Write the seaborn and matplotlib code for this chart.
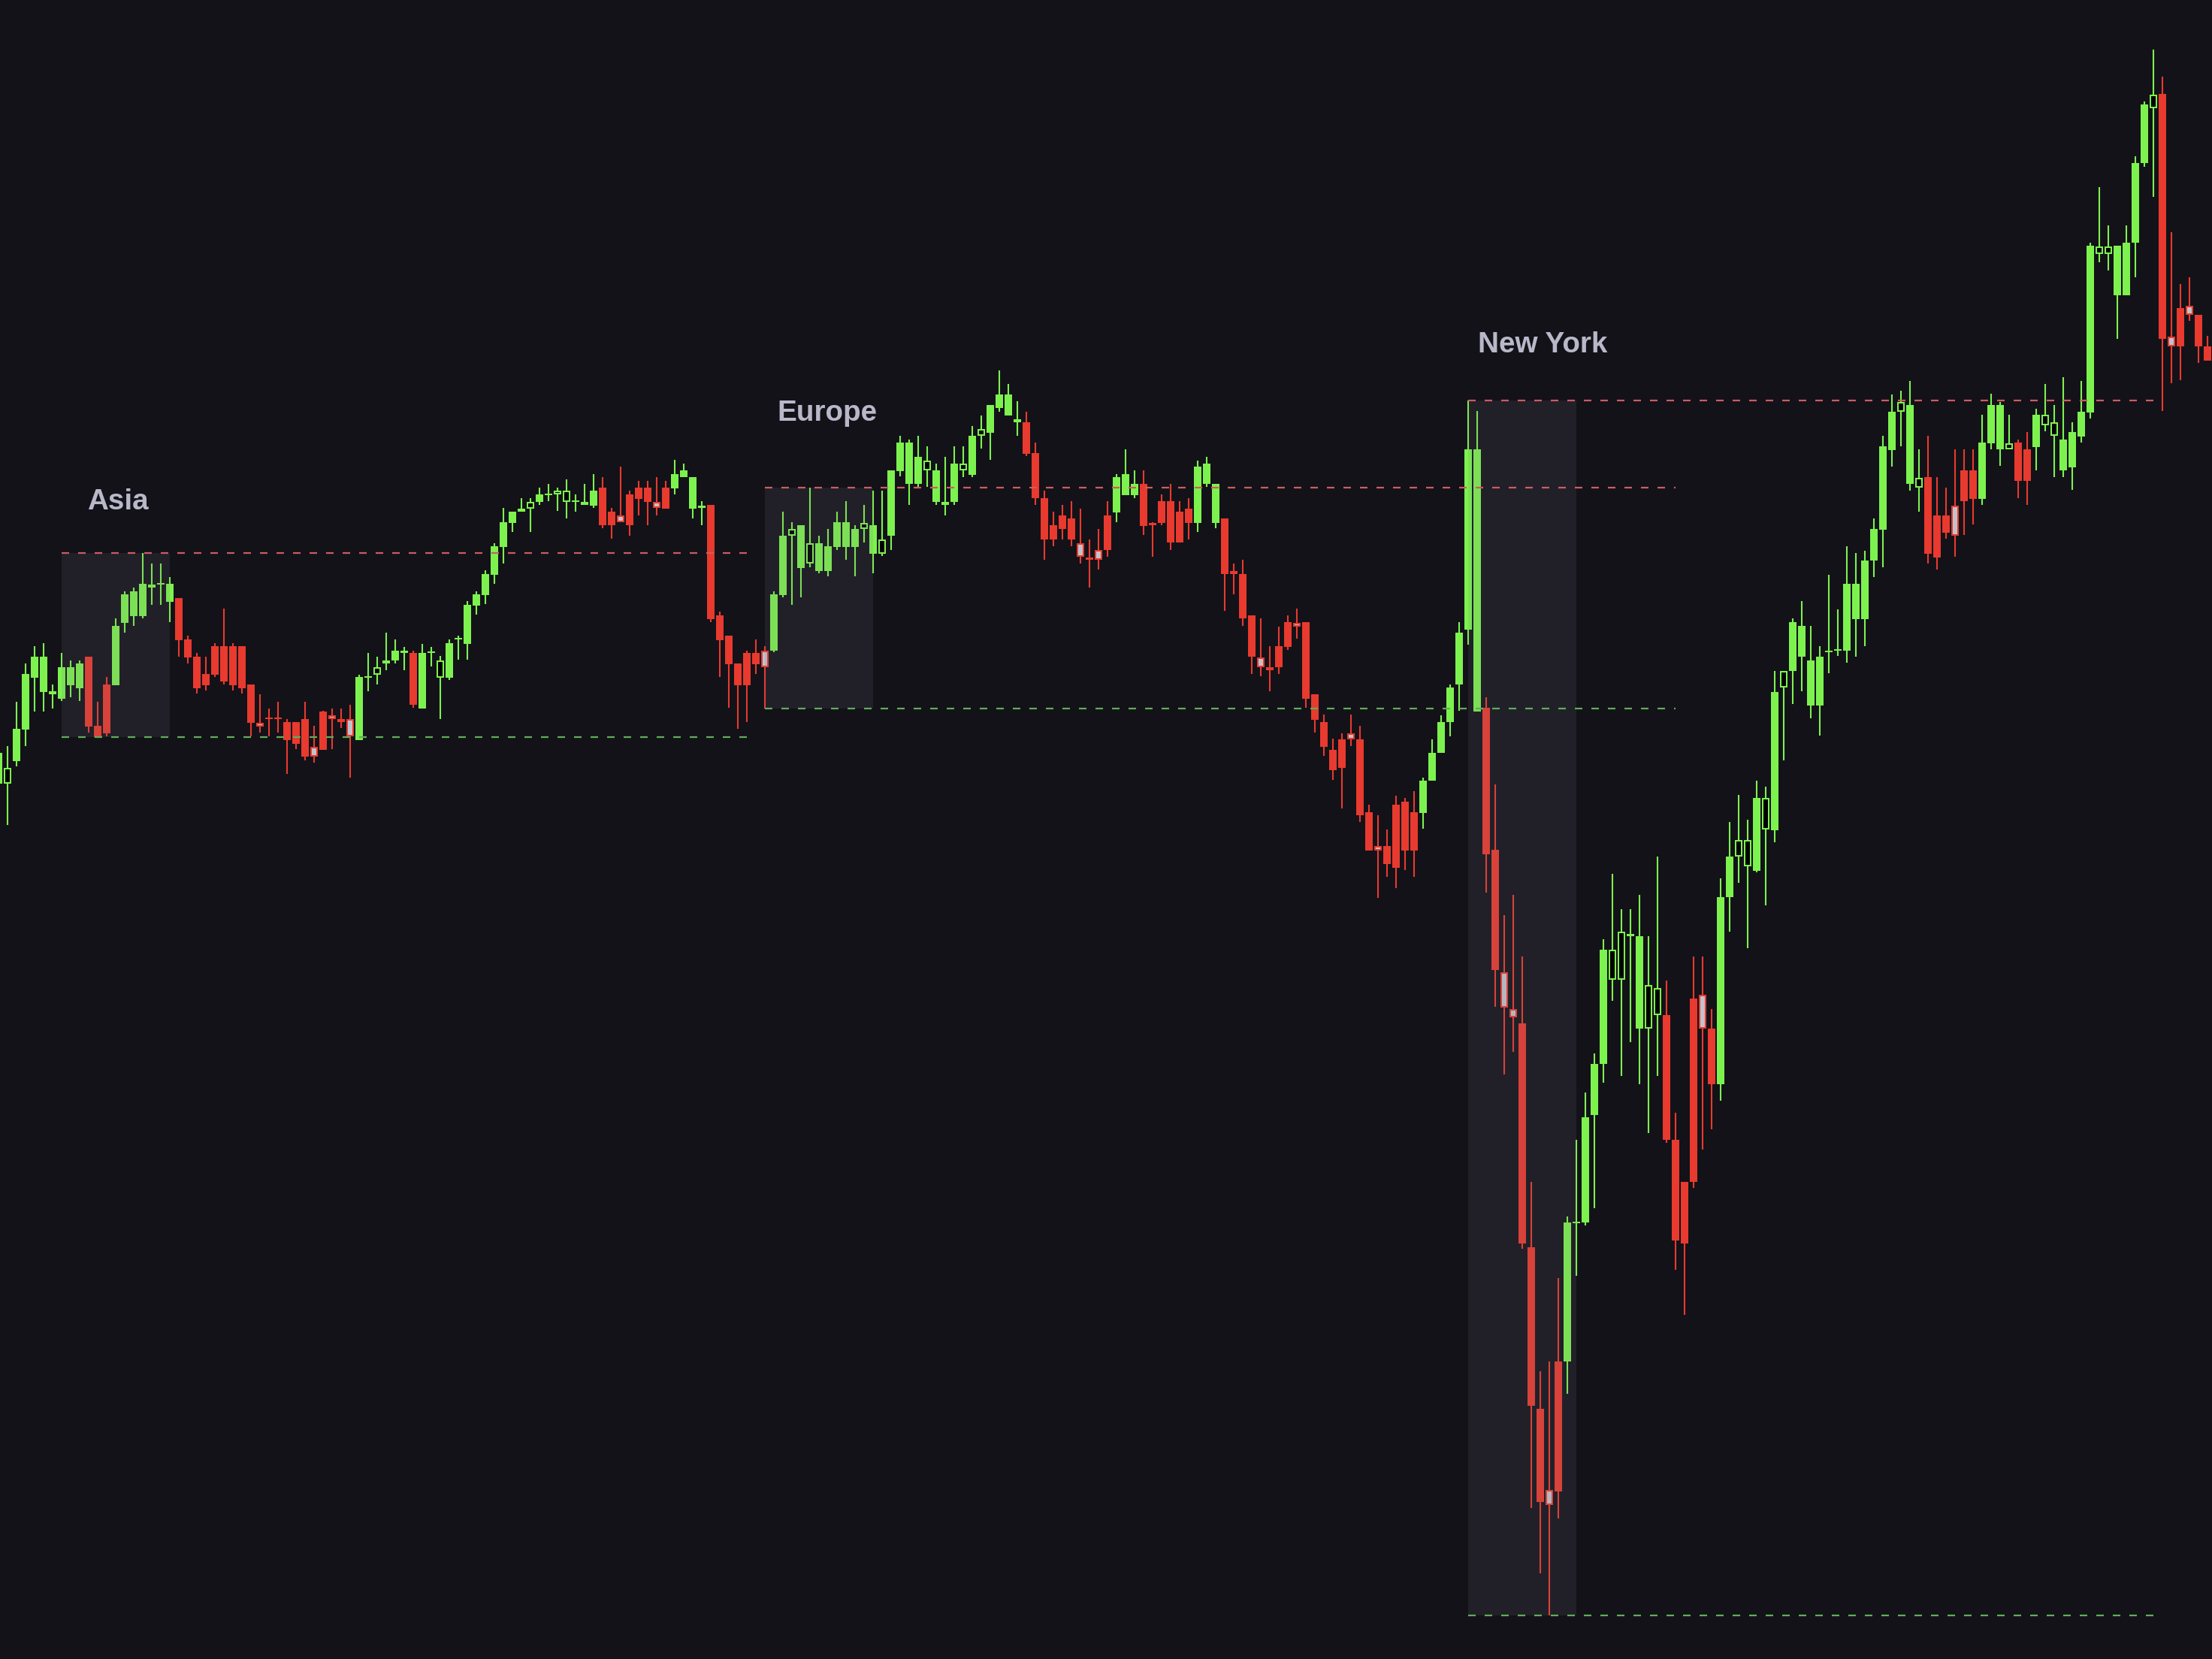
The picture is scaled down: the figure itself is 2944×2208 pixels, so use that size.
import matplotlib
matplotlib.use("Agg")
import matplotlib.pyplot as plt
from matplotlib.patches import Rectangle
import seaborn as sns

# ---------------------------------------------------------------------------
# data: one bar per slot, first bar sits at index -1 (partly off the left edge)
# ---------------------------------------------------------------------------
first_bar = -1

opens = [
    1957, 1957, 1987, 2029, 2098, 2079, 2076, 2070, 2088, 2084, 2126,
    2034, 2089, 2088, 2171, 2180, 2180, 2218, 2222, 2199, 2204,
    2149, 2126, 2103, 2140, 2140, 2140, 2140, 2089, 2038, 2044,
    2044, 2039, 2039, 2043, 2006, 2053, 2048, 2043, 2043, 2015,
    2098, 2102, 2117, 2121, 2131, 2131, 2057, 2131, 2098, 2098,
    2149, 2143, 2194, 2208, 2235, 2272, 2304, 2319, 2323, 2332,
    2341, 2342, 2332, 2332, 2328, 2327, 2351, 2319, 2314, 2342,
    2351, 2351, 2332, 2351, 2350, 2365, 2323, 2324, 2328, 2181,
    2154, 2117, 2131, 2131, 2134, 2134, 2208, 2287, 2244, 2250,
    2240, 2240, 2272, 2272, 2272, 2296, 2263, 2263, 2287, 2373,
    2356, 2356, 2374, 2332, 2328, 2332, 2374, 2368, 2420, 2424,
    2457, 2447, 2438, 2438, 2397, 2337, 2301, 2314, 2310, 2277,
    2258, 2268, 2314, 2318, 2341, 2341, 2356, 2304, 2333, 2333,
    2319, 2323, 2304, 2356, 2304, 2310, 2240, 2236, 2181, 2125,
    2112, 2140, 2172, 2171, 2172, 2076, 2039, 2002, 2016, 2024,
    2016, 1919, 1874, 1874, 1929, 1933, 1919, 1918, 1961, 1998,
    2039, 2089, 2162, 2053, 2058, 1869, 1706, 1657, 1638, 1340,
    1125, 1017, 1188, 1188, 1372, 1373, 1516, 1584, 1696, 1696,
    1754, 1631, 1631, 1649, 1649, 1483, 1427, 1671, 1676, 1631,
    1557, 1806, 1860, 1847, 1841, 1896, 1895, 2085, 2107, 2126,
    2061, 2061, 2132, 2134, 2134, 2176, 2176, 2254, 2295, 2401,
    2452, 2356, 2351, 2365, 2314, 2314, 2327, 2374, 2374, 2336,
    2410, 2402, 2402, 2411, 2402, 2405, 2434, 2420, 2374, 2378,
    2419, 2451, 2662, 2662, 2607, 2607, 2677, 2783, 2856, 2875,
    2552, 2590, 2593, 2581, 2539,
]

highs = [
    2005, 2007, 2066, 2117, 2140, 2144, 2089, 2131, 2121, 2121, 2126,
    2066, 2099, 2177, 2213, 2218, 2264, 2250, 2250, 2232, 2204,
    2154, 2131, 2126, 2144, 2190, 2144, 2140, 2089, 2076, 2057,
    2066, 2043, 2039, 2066, 2034, 2054, 2057, 2057, 2062, 2102,
    2131, 2126, 2158, 2149, 2139, 2134, 2143, 2139, 2127, 2149,
    2154, 2200, 2213, 2241, 2277, 2324, 2319, 2337, 2337, 2351,
    2356, 2351, 2362, 2342, 2356, 2369, 2365, 2324, 2379, 2347,
    2360, 2360, 2365, 2360, 2388, 2383, 2365, 2333, 2328, 2186,
    2154, 2117, 2134, 2149, 2140, 2213, 2319, 2305, 2301, 2351,
    2287, 2296, 2319, 2333, 2301, 2328, 2347, 2347, 2374, 2420,
    2415, 2420, 2406, 2383, 2392, 2406, 2406, 2433, 2447, 2461,
    2507, 2489, 2466, 2452, 2411, 2347, 2319, 2328, 2333, 2323,
    2282, 2296, 2333, 2369, 2402, 2374, 2374, 2305, 2342, 2356,
    2333, 2337, 2387, 2392, 2356, 2310, 2250, 2255, 2181, 2177,
    2140, 2166, 2181, 2190, 2172, 2076, 2049, 2017, 2024, 2049,
    2034, 1929, 1915, 1896, 1941, 1938, 1947, 1965, 2016, 2048,
    2089, 2172, 2467, 2453, 2072, 1956, 1782, 1809, 1727, 1427,
    1175, 1188, 1299, 1381, 1483, 1546, 1598, 1750, 1837, 1790,
    1790, 1809, 1754, 1860, 1695, 1519, 1427, 1727, 1727, 1657,
    1831, 1906, 1942, 1909, 1961, 1953, 2107, 2107, 2177, 2200,
    2167, 2140, 2235, 2189, 2273, 2264, 2267, 2310, 2420, 2475,
    2480, 2493, 2402, 2420, 2365, 2351, 2402, 2402, 2402, 2448,
    2476, 2465, 2448, 2415, 2425, 2456, 2489, 2461, 2498, 2438,
    2493, 2677, 2751, 2700, 2673, 2700, 2792, 2865, 2934, 2898,
    2691, 2622, 2631, 2581, 2553,
]

lows = [
    1940, 1902, 1980, 2007, 2053, 2053, 2057, 2067, 2072, 2067, 2025,
    2019, 2020, 2088, 2158, 2167, 2177, 2195, 2195, 2172, 2126,
    2117, 2077, 2081, 2099, 2089, 2081, 2077, 2020, 2025, 2020,
    2025, 1970, 2003, 1988, 1985, 2002, 2003, 2031, 1965, 2015,
    2080, 2089, 2108, 2117, 2108, 2058, 2057, 2113, 2043, 2095,
    2122, 2122, 2182, 2196, 2223, 2250, 2292, 2319, 2292, 2328,
    2333, 2320, 2310, 2319, 2328, 2324, 2297, 2283, 2305, 2287,
    2314, 2301, 2314, 2323, 2342, 2365, 2310, 2301, 2172, 2099,
    2058, 2030, 2039, 2103, 2057, 2132, 2205, 2195, 2205, 2245,
    2237, 2233, 2268, 2255, 2233, 2278, 2237, 2260, 2268, 2366,
    2328, 2352, 2352, 2328, 2314, 2328, 2365, 2365, 2403, 2388,
    2452, 2447, 2420, 2393, 2328, 2255, 2273, 2282, 2273, 2250,
    2218, 2242, 2259, 2305, 2341, 2337, 2288, 2259, 2301, 2268,
    2278, 2282, 2292, 2352, 2297, 2187, 2209, 2167, 2103, 2100,
    2080, 2103, 2135, 2150, 2058, 2025, 1994, 1962, 1924, 2007,
    1906, 1868, 1805, 1833, 1818, 1842, 1833, 1897, 1961, 1998,
    2020, 2054, 2142, 2053, 1812, 1660, 1570, 1600, 1338, 993,
    906, 850, 979, 1145, 1302, 1369, 1392, 1559, 1668, 1568,
    1613, 1557, 1492, 1568, 1479, 1310, 1250, 1419, 1470, 1497,
    1535, 1760, 1825, 1738, 1839, 1795, 1879, 1988, 2063, 2080,
    2044, 2021, 2104, 2127, 2118, 2126, 2140, 2232, 2245, 2379,
    2406, 2347, 2319, 2250, 2242, 2283, 2259, 2288, 2302, 2328,
    2402, 2380, 2402, 2337, 2328, 2374, 2426, 2365, 2365, 2348,
    2411, 2443, 2651, 2640, 2549, 2607, 2631, 2778, 2738, 2453,
    2490, 2494, 2573, 2517, 2520,
]

closes = [
    1998, 1978, 2030, 2103, 2126, 2126, 2080, 2112, 2112, 2117, 2033,
    2019, 2024, 2167, 2209, 2213, 2223, 2222, 2223, 2223, 2148,
    2125, 2084, 2088, 2102, 2093, 2088, 2084, 2038, 2033, 2043,
    2043, 2015, 2010, 1993, 1993, 2002, 2043, 2039, 2020, 2099,
    2099, 2112, 2121, 2134, 2134, 2062, 2131, 2132, 2121, 2144,
    2150, 2195, 2209, 2236, 2273, 2305, 2319, 2323, 2332, 2342,
    2342, 2347, 2347, 2333, 2332, 2347, 2301, 2301, 2305, 2301,
    2336, 2332, 2324, 2323, 2369, 2374, 2365, 2327, 2176, 2148,
    2116, 2088, 2088, 2116, 2112, 2209, 2287, 2296, 2301, 2277,
    2277, 2273, 2305, 2305, 2296, 2304, 2301, 2282, 2374, 2411,
    2411, 2392, 2387, 2374, 2332, 2383, 2383, 2420, 2429, 2461,
    2475, 2475, 2442, 2396, 2337, 2282, 2282, 2296, 2282, 2259,
    2255, 2255, 2268, 2365, 2369, 2356, 2300, 2301, 2304, 2278,
    2278, 2304, 2379, 2383, 2356, 2236, 2236, 2177, 2126, 2112,
    2108, 2112, 2139, 2166, 2070, 2042, 2006, 1975, 1978, 2016,
    1915, 1868, 1868, 1850, 1845, 1868, 1868, 1961, 1998, 2039,
    2085, 2158, 2402, 2402, 1863, 1709, 1659, 1646, 1345, 1129,
    1001, 997, 1015, 1373, 1373, 1513, 1584, 1736, 1736, 1760,
    1757, 1754, 1689, 1685, 1483, 1349, 1345, 1427, 1631, 1557,
    1806, 1860, 1882, 1882, 1938, 1938, 2079, 2107, 2172, 2167,
    2121, 2126, 2133, 2135, 2223, 2223, 2254, 2296, 2406, 2452,
    2465, 2461, 2364, 2263, 2258, 2291, 2287, 2333, 2336, 2411,
    2461, 2461, 2410, 2360, 2360, 2448, 2448, 2438, 2415, 2425,
    2452, 2673, 2672, 2672, 2673, 2677, 2783, 2861, 2874, 2549,
    2539, 2539, 2581, 2539, 2520,
]

# trading sessions (bar indices)
session_names = ["Asia", "Europe", "New York"]
session_start = [6, 84, 162]
session_end = [18, 96, 174]
level_until = [82, 185, 238]

assert len(opens) == len(highs) == len(lows) == len(closes)

# ---------------------------------------------------------------------------
# style
# ---------------------------------------------------------------------------
BG = "#131219"
GREEN = "#7DF24F"
RED = "#E83A2E"
GRAY_FILL = "#C3C2CB"
HOLLOW_FILL = "#000000"
HI_LINE = "#CC5C60"
LO_LINE = "#5FAE58"
BOX = "#77767F"
LABEL = "#B9B8C9"

sns.set_theme(style="dark", rc={
    "axes.facecolor": BG,
    "figure.facecolor": BG,
    "lines.scale_dashes": True,
    "lines.dashed_pattern": (4.5, 5.4),
})
plt.rcParams["font.family"] = ["Liberation Sans", "DejaVu Sans"]

fig = plt.figure(figsize=(14.72, 11.04), dpi=200, facecolor=BG)
ax = fig.add_axes([0, 0, 1, 1])
ax.set_facecolor(BG)

BODY_W = 10 / 12      # body width in bar units
EDGE_X = 1.7 / 12     # hollow border, bar units
EDGE_Y = 1.7          # hollow border, price units

for i, (o, h, l, c) in enumerate(zip(opens, highs, lows, closes)):
    x = first_bar + i
    up = c >= o
    col = GREEN if up else RED
    lo_b, hi_b = min(o, c), max(o, c)
    body = hi_b - lo_b
    hollow = body < 0.3 * (h - l)
    bh = max(body, 2)
    ax.vlines(x, l, h, color=col, linewidth=0.75, zorder=2)
    ax.add_patch(Rectangle((x - BODY_W / 2, lo_b), BODY_W, bh,
                           facecolor=col, edgecolor="none", zorder=2.1))
    if hollow and bh - 2 * EDGE_Y > 0:
        ax.add_patch(Rectangle((x - BODY_W / 2 + EDGE_X, lo_b + EDGE_Y),
                               BODY_W - 2 * EDGE_X, bh - 2 * EDGE_Y,
                               facecolor=HOLLOW_FILL if up else GRAY_FILL,
                               edgecolor="none", zorder=2.2))

# session boxes + high/low levels
label_pos = [(8.83, 2322), (85.35, 2440), (163.1, 2531)]
for name, s, e, until, (tx, ty) in zip(session_names, session_start,
                                       session_end, level_until, label_pos):
    sl = slice(s - first_bar, e - first_bar + 1)
    s_hi = max(highs[sl])
    s_lo = min(lows[sl])
    ax.add_patch(Rectangle((s, s_lo), e - s, s_hi - s_lo,
                           facecolor=BOX, edgecolor="none", alpha=0.15,
                           zorder=3))
    sns.lineplot(x=[s, until], y=[s_hi, s_hi], ax=ax, color=HI_LINE,
                 linewidth=0.8, linestyle="--", legend=False, zorder=4)
    sns.lineplot(x=[s, until], y=[s_lo, s_lo], ax=ax, color=LO_LINE,
                 linewidth=0.8, linestyle="--", legend=False, zorder=4)
    ax.text(tx, ty, name, color=LABEL, fontsize=13.9, fontweight="bold",
            ha="left", va="baseline", zorder=5)

ax.set_xlim(-10 / 12, (2944 - 10) / 12)
ax.set_ylim(3000 - 2208, 3000)
ax.set_axis_off()

fig.savefig("out.png", dpi=200, facecolor=BG)
plt.close(fig)
